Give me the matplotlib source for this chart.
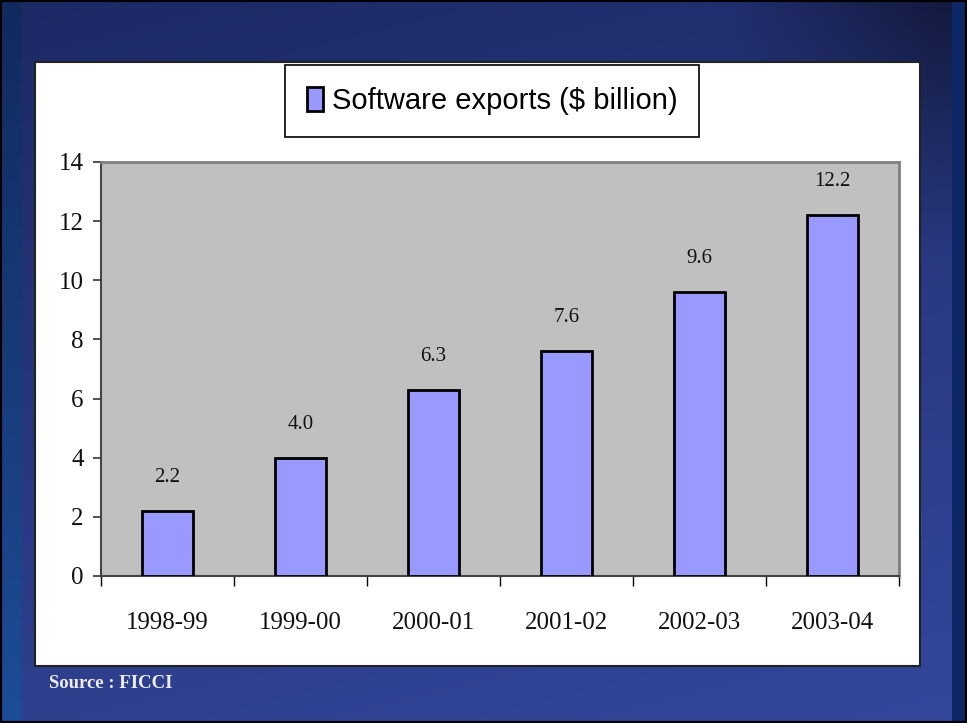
import numpy as np
import matplotlib.pyplot as plt
from matplotlib.patches import Rectangle, Patch
from matplotlib.colors import to_rgb

years = ["1998-99", "1999-00", "2000-01", "2001-02", "2002-03", "2003-04"]
exports = [2.2, 4.0, 6.3, 7.6, 9.6, 12.2]
series_name = "Software exports ($ billion)"
source_note = "Source : FICCI"

W, H = 967, 723
fig = plt.figure(figsize=(W / 100, H / 100), dpi=100)

# slide background: blue gradient with darker side strips and a thin black frame
bg = fig.add_axes([0, 0, 1, 1], zorder=-10)
yy, xx = np.mgrid[0:1:H * 1j, 0:1:W * 1j]
top = np.array(to_rgb("#1d2965"))
bot = np.array(to_rgb("#34479c"))
t = (0.75 * yy + 0.25 * xx)[..., None]
img = top * (1 - t) + bot * t
# darker shading in the upper right corner
shade = np.clip((xx - 0.75) / 0.22, 0, 1) * np.clip(1 - yy / 0.35, 0, 1)
img = img * (1 - 0.45 * shade[..., None])
# side strips
ls = (xx >= 3 / W) & (xx < 22 / W)
img[ls] = (np.array(to_rgb("#112a5e")) * (1 - yy[ls])[:, None]
           + np.array(to_rgb("#1d4d96")) * yy[ls][:, None])
rs = (xx >= 952 / W)
img[rs] = np.array(to_rgb("#0e2867"))
bg.imshow(img, aspect="auto", extent=[0, 1, 0, 1], origin="upper")
for side in bg.spines.values():
    side.set_color("black")
    side.set_linewidth(3)
bg.set_xticks([])
bg.set_yticks([])

# white chart panel
fig.patches.append(Rectangle((35 / W, 1 - 666 / H), 885 / W, 604 / H,
                             transform=fig.transFigure, facecolor="white",
                             edgecolor="#222222", linewidth=1.5, zorder=-5))

ax = fig.add_axes([101 / W, 1 - 576 / H, 798 / W, 414 / H])
ax.set_facecolor("#c0c0c0")
x = np.arange(len(years))
ax.bar(x, exports, width=0.39, color="#9999ff", edgecolor="black",
       linewidth=2, zorder=3)

for xi, v in zip(x, exports):
    ax.annotate(f"{v:.1f}", (xi, v), xytext=(0, 24), textcoords="offset points",
                ha="center", va="center", fontsize=15, color="#111111",
                family="Liberation Serif")

ax.set_xlim(-0.5, len(years) - 0.5)
ax.set_ylim(0, 14)
ax.set_yticks(np.arange(0, 15, 2))
ax.set_xticks(x)
ax.set_xticklabels(years)
ax.set_xticks(np.arange(-0.5, len(years)), minor=True)
ax.tick_params(axis="x", which="major", length=0, pad=26, labelsize=18)
ax.tick_params(axis="x", which="minor", length=7.5, width=1, color="black",
               direction="out")
ax.tick_params(axis="y", length=5.5, width=1.2, color="#333333", pad=7,
               labelsize=18)
for lbl in ax.get_xticklabels() + ax.get_yticklabels():
    lbl.set_family("Liberation Serif")
    lbl.set_color("#111111")

ax.spines["top"].set_color("#808080")
ax.spines["right"].set_color("#808080")
ax.spines["top"].set_linewidth(2)
ax.spines["right"].set_linewidth(2)
ax.spines["left"].set_color("#444444")
ax.spines["left"].set_linewidth(1.5)
ax.spines["bottom"].set_color("#444444")
ax.spines["bottom"].set_linewidth(1.5)

handle = Patch(facecolor="#9999ff", edgecolor="black", linewidth=2)
leg = fig.legend([handle], [series_name], loc="center",
                 bbox_to_anchor=(492 / W, 1 - 101 / H),
                 prop={"family": "Liberation Sans", "size": 21},
                 handlelength=0.55, handleheight=0.9, handletextpad=0.3,
                 borderpad=0.75, borderaxespad=0, fancybox=False,
                 framealpha=1, edgecolor="black")
leg.get_frame().set_linewidth(1.2)

fig.text(49 / W, 1 - 683 / H, source_note, ha="left", va="center",
         fontsize=13.5, fontweight="bold", color="#ececf4",
         family="Liberation Serif")

fig.savefig("out.png", dpi=100)
